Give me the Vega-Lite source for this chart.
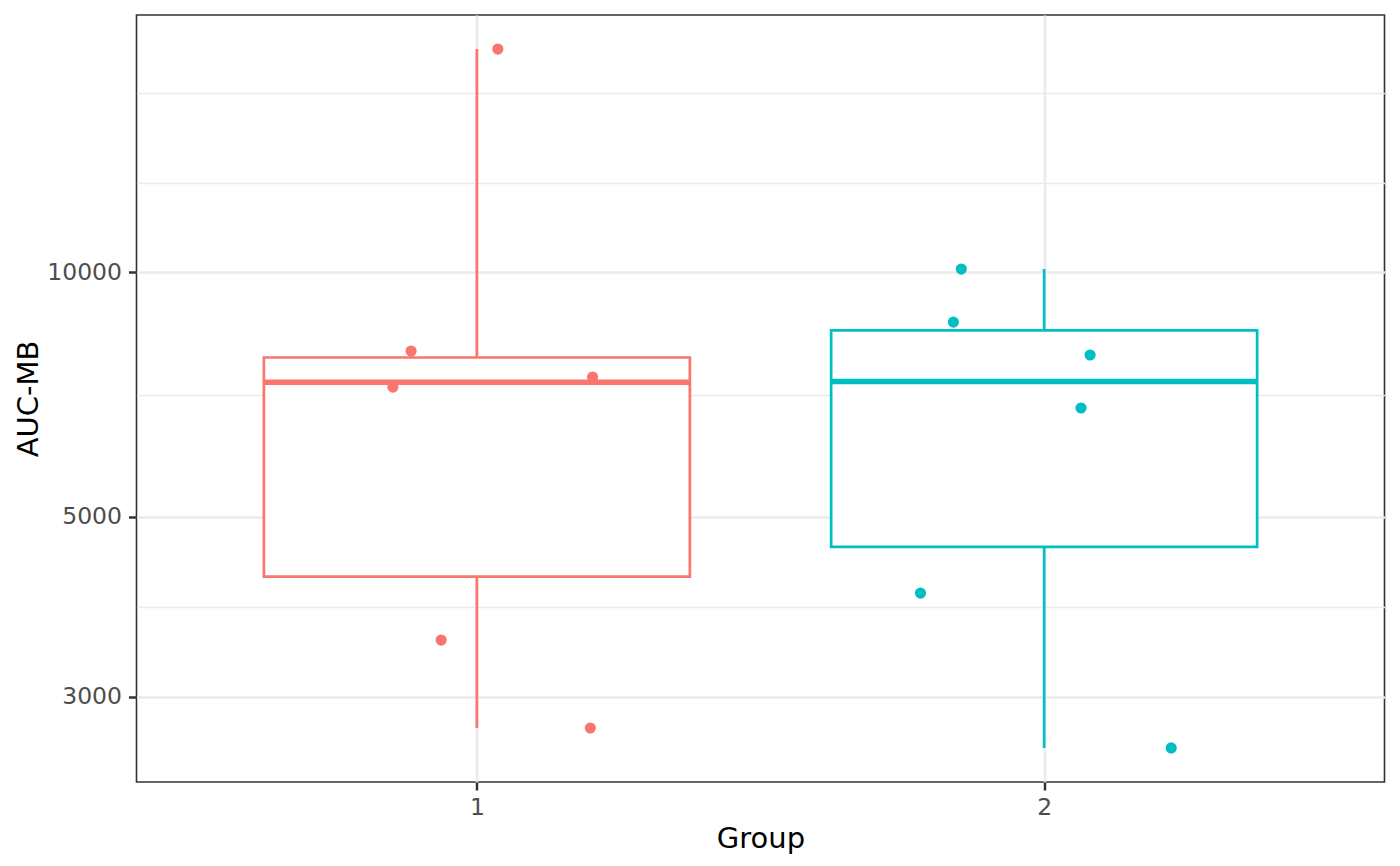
{
  "$schema": "https://vega.github.io/schema/vega-lite/v6.json",
  "autosize": {"type": "none"},
  "padding": {"left": 136.5, "top": 15, "right": 15.5, "bottom": 84},
  "width": 1248,
  "height": 767,
  "background": "white",
  "config": {
    "font": "DejaVu Sans",
    "view": {"stroke": "#333333", "strokeWidth": 1.6, "fill": "white"}
  },
  "datasets": {
    "boxes": [
      {"group": 1, "lower": 2747, "q1": 4219, "median": 7325, "q3": 7855, "upper": 18836},
      {"group": 2, "lower": 2596, "q1": 4592, "median": 7337, "q3": 8485, "upper": 10094}
    ],
    "points": [
      {"group": 1, "x": 1.037, "AUC": 18836},
      {"group": 1, "x": 0.884, "AUC": 8000},
      {"group": 1, "x": 0.852, "AUC": 7223},
      {"group": 1, "x": 1.204, "AUC": 7431},
      {"group": 1, "x": 0.937, "AUC": 3525},
      {"group": 1, "x": 1.200, "AUC": 2747},
      {"group": 2, "x": 1.854, "AUC": 10094},
      {"group": 2, "x": 1.840, "AUC": 8685},
      {"group": 2, "x": 2.081, "AUC": 7911},
      {"group": 2, "x": 2.065, "AUC": 6807},
      {"group": 2, "x": 1.782, "AUC": 4027},
      {"group": 2, "x": 2.224, "AUC": 2596}
    ]
  },
  "layer": [
    {
      "data": {"name": "boxes"},
      "mark": {"type": "rule", "strokeWidth": 2.7},
      "encoding": {
        "x": {
          "field": "group", "type": "quantitative",
          "scale": {"domain": [0.4, 2.6], "nice": false, "zero": false, "padding": 0},
          "axis": {
            "values": [1, 2], "format": "d", "title": "Group",
            "domain": false,
            "grid": true, "gridColor": "#EBEBEB", "gridWidth": 2.6,
            "tickColor": "#333333", "tickWidth": 2.5, "tickSize": 8,
            "labelFontSize": 23.5, "labelColor": "#4D4D4D", "labelPadding": 5,
            "labelFont": "DejaVu Sans",
            "titleFont": "DejaVu Sans", "titleFontSize": 29, "titleFontWeight": "normal",
            "titleColor": "#000000", "titleBaseline": "alphabetic", "titleY": 65
          }
        },
        "y": {
          "field": "lower", "type": "quantitative",
          "scale": {"type": "log", "domain": [2357, 20747], "nice": false, "zero": false, "padding": 0},
          "axis": {
            "values": [3000, 3873, 5000, 7071, 10000, 12891, 16630],
            "labelExpr": "(datum.value == 3000 || datum.value == 5000 || datum.value == 10000) ? datum.value : ''",
            "title": "AUC-MB",
            "domain": false,
            "grid": true, "gridColor": "#EBEBEB",
            "gridWidth": {"condition": {"test": "datum.value == 3000 || datum.value == 5000 || datum.value == 10000", "value": 2.6}, "value": 1.3},
            "tickColor": "#333333", "tickWidth": 2.5, "tickSize": 8,
            "tickOpacity": {"condition": {"test": "datum.value == 3000 || datum.value == 5000 || datum.value == 10000", "value": 1}, "value": 0},
            "labelFontSize": 23.5, "labelColor": "#4D4D4D", "labelPadding": 7,
            "labelFont": "DejaVu Sans",
            "titleFont": "DejaVu Sans", "titleFontSize": 29, "titleFontWeight": "normal",
            "titleColor": "#000000", "titleBaseline": "alphabetic", "titleAngle": -90,
            "titleX": -99, "titleY": 383.5, "titleAlign": "center"
          }
        },
        "y2": {"field": "upper"},
        "color": {
          "field": "group", "type": "nominal",
          "scale": {"domain": [1, 2], "range": ["#F8766D", "#00BFC4"]},
          "legend": null
        }
      }
    },
    {
      "data": {"name": "boxes"},
      "mark": {"type": "bar", "width": 426, "fill": "white", "strokeWidth": 2.7},
      "encoding": {
        "x": {"field": "group", "type": "quantitative"},
        "y": {"field": "q1", "type": "quantitative"},
        "y2": {"field": "q3"},
        "stroke": {
          "field": "group", "type": "nominal",
          "scale": {"domain": [1, 2], "range": ["#F8766D", "#00BFC4"]},
          "legend": null
        }
      }
    },
    {
      "data": {"name": "boxes"},
      "mark": {"type": "tick", "orient": "horizontal", "size": 426, "thickness": 5.5, "opacity": 1},
      "encoding": {
        "x": {"field": "group", "type": "quantitative"},
        "y": {"field": "median", "type": "quantitative"},
        "color": {"field": "group", "type": "nominal", "legend": null}
      }
    },
    {
      "data": {"name": "points"},
      "mark": {"type": "circle", "size": 125, "opacity": 1},
      "encoding": {
        "x": {"field": "x", "type": "quantitative"},
        "y": {"field": "AUC", "type": "quantitative"},
        "color": {"field": "group", "type": "nominal", "legend": null}
      }
    }
  ]
}
